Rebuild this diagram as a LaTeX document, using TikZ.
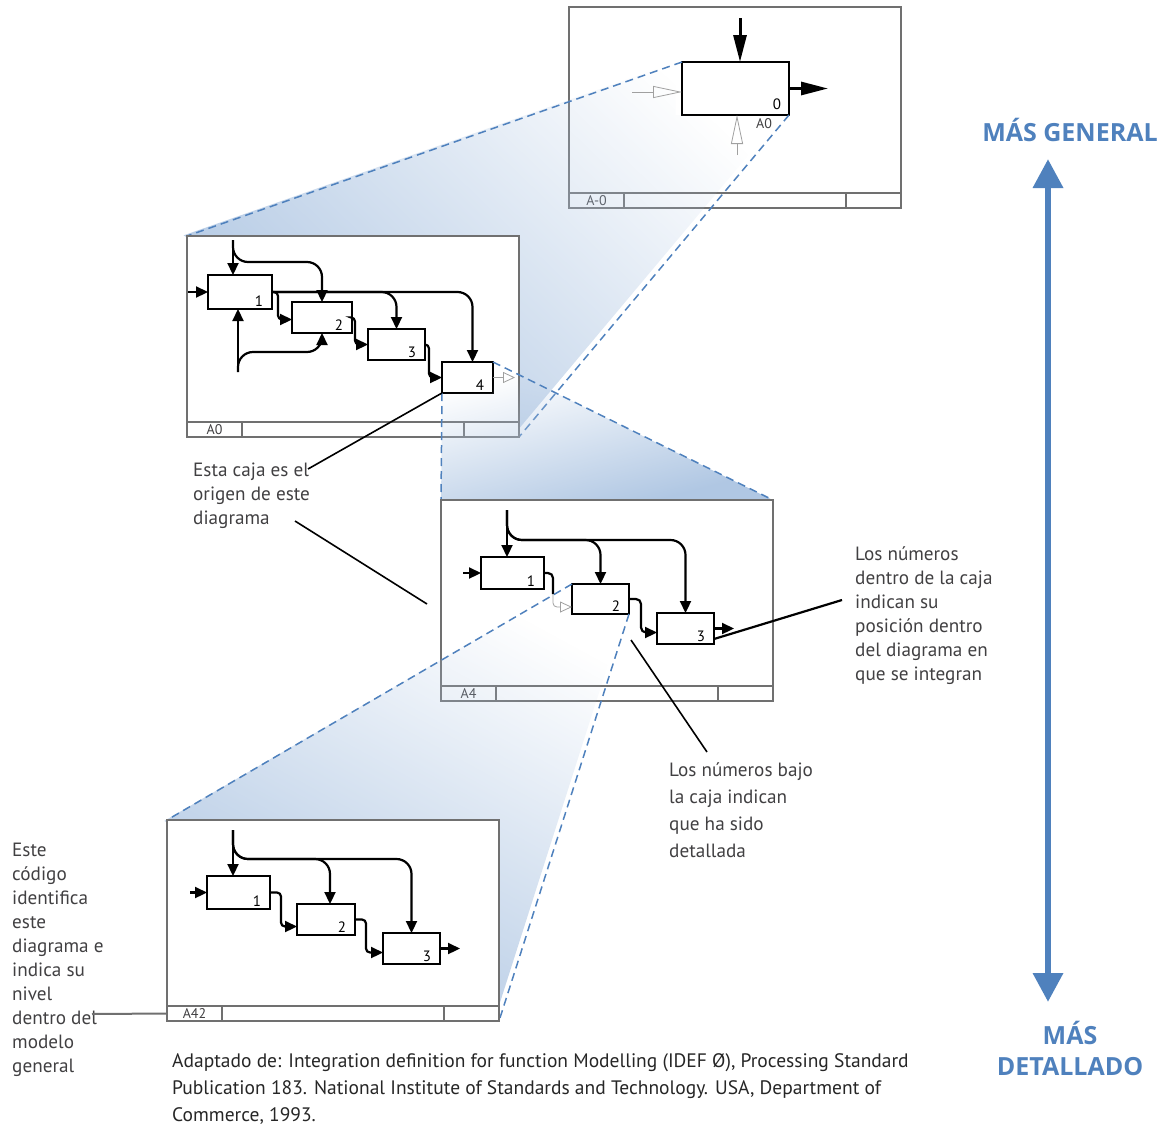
\documentclass[tikz,border=0pt]{standalone}
\usepackage{fontspec}
\setmainfont{PT Sans}
\newfontfamily\levelfont{Open Sans}
\usetikzlibrary{arrows.meta, calc, fadings}

\definecolor{levelblue}{RGB}{79,129,189}
\definecolor{funnelblue}{RGB}{176,199,227}
\definecolor{framegray}{RGB}{112,112,112}
\definecolor{notegray}{RGB}{65,64,66}
\definecolor{ghostgray}{RGB}{160,160,160}

\begin{document}
\begin{tikzpicture}[
    x=1pt, y=-1pt,
    % Styles
    sheet/.style={
        draw=framegray, line width=1.8pt, fill=white,
        inner sep=0pt, outer sep=0pt, anchor=north west,
        minimum width=332pt, minimum height=201pt,
        path picture={
            \draw[bar] ([yshift=15pt]path picture bounding box.south west)
                -- ([yshift=15pt]path picture bounding box.south east);
            \draw[bar] ([xshift=55pt]path picture bounding box.south west)
                -- ([xshift=55pt,yshift=15pt]path picture bounding box.south west);
            \draw[bar] ([xshift=-55pt]path picture bounding box.south east)
                -- ([xshift=-55pt,yshift=15pt]path picture bounding box.south east);
        }
    },
    bar/.style={draw=framegray, line width=1.4pt},
    codetext/.style={text=notegray, font=\fontsize{14}{16}\selectfont, inner sep=0pt},
    actbox/.style={draw, line width=2pt, fill=white, inner sep=0pt, outer sep=0pt},
    num/.style={font=\fontsize{15}{17}\selectfont, inner sep=0pt},
    flow/.style={line width=2.2pt, -{Triangle[length=12pt, width=11pt]}},
    wire/.style={line width=2.2pt},
    bigflow/.style={line width=3pt, -{Triangle[length=27pt, width=13pt]}},
    ghost/.style={draw=ghostgray, line width=0.8pt, -{Triangle[open, length=12pt, width=11pt]}},
    bigghost/.style={draw=ghostgray, line width=0.8pt, -{Triangle[open, length=29pt, width=12pt]}},
    funnel/.style={fill=funnelblue, path fading=north, fading angle=#1},
    cutline/.style={draw=levelblue, line width=1.5pt, dash pattern=on 8pt off 5pt},
    note/.style={text=notegray, font=\fontsize{19.2}{24}\selectfont, align=left,
        inner sep=0pt, anchor=north west, execute at begin node={\rule{0pt}{17pt}}},
    callout/.style={line width=1.6pt},
    levtext/.style={text=levelblue, font=\levelfont\bfseries\fontsize{25}{31}\selectfont, align=center,
        inner sep=0pt, anchor=north, execute at begin node={\rule{0pt}{25pt}}},
    levarrow/.style={draw=levelblue, line width=6.5pt,
        {Triangle[length=29pt, width=29pt]}-{Triangle[length=29pt, width=29pt]}}
]
    \useasboundingbox (0,0) rectangle (1161,1127);

    % --- A-0 ---
    \node[sheet] (sAm0) at (569,7) {};
    \node[codetext] (codeAm0) at ([xshift=27.5pt,yshift=7.5pt]sAm0.south west) {A-0};
    \node[actbox, line width=2.2pt, minimum width=107pt, minimum height=53pt] (b0) at (735.5,88.5) {};
    \node[num] (b0n) at ([shift={(-12,-11)}]b0.south east) {0};
    \node[codetext] (b0code) at (764,124) {A0};
    \coordinate (b0ctl) at (740,18);
    \coordinate (b0out) at (828,88.5);
    \coordinate (b0in) at (632,92);
    \coordinate (b0mech) at (737,155);
    \draw[bigflow] (b0ctl) -- (b0ctl |- b0.north);
    \draw[bigflow] (b0.east) -- (b0out);

    % funnel A-0 -> A0
    \coordinate (A0nw) at (187,236);
    \coordinate (A0se) at (519,437);
    \path[funnel=-57] (b0.north west) -- (b0.south west) -- (b0.south east)
        -- (A0se) -- (A0nw) -- cycle;
    \draw[cutline] (b0.north west) -- (A0nw);
    \draw[cutline] (b0.south east) -- (A0se);
    \draw[bigghost] (b0in) -- (b0in -| b0.west);
    \draw[bigghost] (b0mech) -- (b0mech |- b0.south);

    % --- A0 ---
    \node[sheet] (sA0) at (A0nw) {};
    \node[codetext] (codeA0) at ([xshift=27.5pt,yshift=7.5pt]sA0.south west) {A0};
    \node[actbox, minimum width=64pt, minimum height=34pt] (a0b1) at (240,292) {};
    \node[actbox, minimum width=60pt, minimum height=31pt] (a0b2) at (322,317.5) {};
    \node[actbox, minimum width=57pt, minimum height=31pt] (a0b3) at (396.5,344.5) {};
    \node[actbox, minimum width=51pt, minimum height=31pt] (a0b4) at (467.5,377.5) {};
    \foreach \b/\n in {a0b1/1, a0b2/2, a0b3/3, a0b4/4}
        \node[num] (\b-n) at ([shift={(-13,-8)}]\b.south east) {\n};
    \coordinate (a0ctl) at (233,240);
    \coordinate (a0in) at (188,292);
    \coordinate (a0mech) at (238,372);
    \coordinate (a0out) at (515,377.5);
    \draw[flow] (a0in) -- (a0b1.west);
    \draw[flow] (a0ctl) -- (a0ctl |- a0b1.north);
    \draw[flow] (a0mech) -- (a0mech |- a0b1.south);
    \draw[flow, rounded corners=15pt] (a0ctl) |- ($(a0b2.north)+(0,-40)$) -- (a0b2.north);
    \draw[flow, rounded corners=15pt] (a0mech) |- ($(a0b2.south)+(0,19)$) -- (a0b2.south);
    \draw[flow, rounded corners=15pt] (a0b1.east) -| (a0b3.north);
    \draw[flow, rounded corners=15pt] (a0b1.east) -| ([xshift=5pt]a0b4.north);
    \draw[flow, rounded corners=4pt] (a0b1.east) -| ($(a0b2.west)+(-14,2)$) -- ([yshift=-2pt]a0b2.west);
    \draw[flow, rounded corners=4pt] (a0b2.east) -| ($(a0b3.west)+(-13,0)$) -- (a0b3.west);
    \draw[flow, rounded corners=4pt] (a0b3.east) -| ($(a0b4.west)+(-13,0)$) -- (a0b4.west);

    % funnel A0 -> A4
    \coordinate (A4nw) at (441,500);
    \coordinate (A4ne) at (773,500);
    \path[funnel=32] (a0b4.south west) -- (a0b4.south east) -- (a0b4.north east)
        -- (A4ne) -- (A4nw) -- cycle;
    \draw[cutline] (a0b4.south west) -- (A4nw);
    \draw[cutline] (a0b4.north east) -- (A4ne);
    \draw[ghost] (a0b4.east) -- (a0out);

    % --- A4 ---
    \node[sheet] (sA4) at (A4nw) {};
    \node[codetext] (codeA4) at ([xshift=27.5pt,yshift=7.5pt]sA4.south west) {A4};
    \node[actbox, minimum width=63pt, minimum height=32pt] (a4b1) at (512.5,573) {};
    \node[actbox, minimum width=57pt, minimum height=30pt] (a4b2) at (600.5,599) {};
    \node[actbox, minimum width=57pt, minimum height=31pt] (a4b3) at (685.5,628.5) {};
    \foreach \b/\n in {a4b1/1, a4b2/2, a4b3/3}
        \node[num] (\b-n) at ([shift={(-13,-8)}]\b.south east) {\n};
    \coordinate (a4ctl) at (507,510);
    \coordinate (a4in) at (463,573);
    \coordinate (a4gap) at (553,594);
    \coordinate (a4out) at (734,628.5);
    \draw[flow] (a4in) -- (a4b1.west);
    \draw[flow] (a4ctl) -- (a4ctl |- a4b1.north);
    \draw[flow, rounded corners=15pt] (a4ctl) |- ($(a4b2.north)+(0,-44)$) -- (a4b2.north);
    \draw[flow, rounded corners=15pt] (a4ctl) |- ($(a4b3.north)+(0,-73)$) -- (a4b3.north);
    \draw[wire, rounded corners=5pt] (a4b1.east) -| (a4gap);
    \draw[flow, rounded corners=5pt] (a4b2.east) -| ($(a4b3.west)+(-16,4)$) -- ([yshift=-4pt]a4b3.west);
    \draw[flow] (a4b3.east) -- (a4out);

    % funnel A4 -> A42
    \coordinate (A42nw) at (167,820);
    \coordinate (A42se) at (499,1021);
    \path[funnel=-30] (a4b2.north west) -- (a4b2.south west) -- (a4b2.south east)
        -- (A42se) -- (A42nw) -- cycle;
    \draw[cutline] (a4b2.north west) -- (A42nw);
    \draw[cutline] (a4b2.south east) -- (A42se);
    \draw[ghost, rounded corners=4pt] (a4gap) |- ([yshift=-8pt]a4b2.west);

    % --- A42 ---
    \node[sheet] (sA42) at (A42nw) {};
    \node[codetext] (codeA42) at ([xshift=27.5pt,yshift=7.5pt]sA42.south west) {A42};
    \node[actbox, minimum width=63pt, minimum height=33pt] (a42b1) at (238.5,892.5) {};
    \node[actbox, minimum width=58pt, minimum height=31pt] (a42b2) at (326,919.5) {};
    \node[actbox, minimum width=57pt, minimum height=31pt] (a42b3) at (411.5,948.5) {};
    \foreach \b/\n in {a42b1/1, a42b2/2, a42b3/3}
        \node[num] (\b-n) at ([shift={(-13,-8)}]\b.south east) {\n};
    \coordinate (a42ctl) at (233,830);
    \coordinate (a42in) at (190,892.5);
    \coordinate (a42out) at (460,948.5);
    \draw[flow] (a42in) -- (a42b1.west);
    \draw[flow] (a42ctl) -- (a42ctl |- a42b1.north);
    \draw[flow, rounded corners=15pt] (a42ctl) |- ($([xshift=4pt]a42b2.north)+(0,-45)$) -- ([xshift=4pt]a42b2.north);
    \draw[flow, rounded corners=15pt] (a42ctl) |- ($(a42b3.north)+(0,-74)$) -- (a42b3.north);
    \draw[flow, rounded corners=4pt] (a42b1.east) -| ($(a42b2.west)+(-16,7)$) -- ([yshift=-7pt]a42b2.west);
    \draw[flow, rounded corners=4pt] (a42b2.east) -| ($(a42b3.west)+(-17,4)$) -- ([yshift=-4pt]a42b3.west);
    \draw[flow] (a42b3.east) -- (a42out);

    % --- Notes ---
    \node[note] (origen) at (193,463) {Esta caja es el\\origen de este\\diagrama};
    \node[note] (posicion) at (855,546) {Los números\\dentro de la caja\\indican su\\posición dentro\\del diagrama en\\que se integran};
    \node[note, font=\fontsize{19.2}{27.3}\selectfont] (bajo) at (669,762) {Los números bajo\\la caja indican\\que ha sido\\detallada};
    \node[note] (codigo) at (12,843) {Este\\código\\identifica\\este\\diagrama e\\indica su\\nivel\\dentro del\\modelo\\general};
    \node[note, text=black!85, font=\fontsize{19.5}{27}\selectfont] (fuente) at (172,1053)
        {Adaptado de: Integration definition for function Modelling (IDEF Ø), Processing Standard\\Publication 183. National Institute of Standards and Technology. USA, Department of\\Commerce, 1993.};

    \coordinate (origen-tip) at (308,469);
    \coordinate (origen-foot) at (295,521);
    \coordinate (origen-end) at (427,604);
    \coordinate (bajo-start) at (631,640);
    \coordinate (bajo-tip) at (707,752);
    \coordinate (posicion-tip) at (842,600);
    \coordinate (codigo-tip) at (92,1014);
    \draw[callout] (a0b4.south west) -- (origen-tip);
    \draw[callout] (origen-foot) -- (origen-end);
    \draw[callout] (bajo-start) -- (bajo-tip);
    \draw[callout, line width=2.2pt] ([yshift=5pt]a4b3.south east) -- (posicion-tip);
    \draw[callout, draw=framegray, line width=2pt] (codigo-tip) -- ([yshift=7.5pt]sA42.south west);

    % --- Level of detail ---
    \node[levtext] (general) at (1070,116.7) {MÁS GENERAL};
    \node[levtext] (detallado) at (1070,1021) {MÁS\\DETALLADO};
    \coordinate (general-tip) at (1048,159);
    \coordinate (detallado-tip) at (1048,1002);
    \draw[levarrow] (general-tip) -- (detallado-tip);

\end{tikzpicture}
\end{document}
